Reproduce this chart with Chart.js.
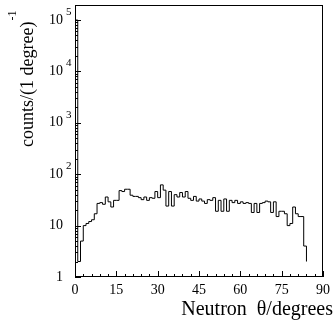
<!DOCTYPE html>
<html><head><meta charset="utf-8">
<script src="https://cdn.jsdelivr.net/npm/chart.js@4/dist/chart.umd.min.js"></script>
<style>html,body{margin:0;padding:0;background:#fff;}#wrap{width:335px;height:326px;position:relative;}</style>
</head><body><div id="wrap"><canvas id="c"></canvas></div>
<script>
// Counts per 1-degree bin of neutron theta (bin k covers k..k+1 degrees)
const counts = [
 100000, 2, 5, 10, 11, 12, 13, 17, 27, 28,
 26, 36, 29, 23, 31, 31, 48, 46, 51, 51,
 39, 37, 37, 35, 32, 36, 31, 35, 34, 46,
 35, 62, 49, 24, 46, 24, 40, 36, 44, 36,
 46, 34, 31, 37, 30, 33, 30, 27, 32, 31,
 35, 19, 31, 19, 33, 19, 31, 28, 31, 27,
 29, 27, 28, 27, 18, 27, 18, 27, 28, 30,
 29, 18, 29, 15, 19, 19, 17, 10, 11, 23,
 17, 15, 15, 4, 2, 0, 0, 0, 0, 0
];
const xTicks = [0, 15, 30, 45, 60, 75, 90];
const yDecades = [1, 10, 100, 1000, 10000, 100000];
const xTitle = 'Neutron  \u03b8/degrees';
const yTitle = 'counts/(1 degree)';
const yTitleSup = '-1';

const FONT = "'Liberation Serif', 'DejaVu Serif', serif";

const points = [{x: 0, y: 0}];
counts.forEach((v, i) => points.push({x: i, y: v}));
points.push({x: counts.length, y: 0});

const decor = {
  id: 'decor',
  afterDraw(chart) {
    const ctx = chart.ctx;
    const a = chart.chartArea;
    const xs = chart.scales.x, ys = chart.scales.y;
    ctx.save();
    ctx.strokeStyle = '#000';
    ctx.lineWidth = 1;
    // frame
    ctx.strokeRect(Math.round(a.left) + 0.5, Math.round(a.top) + 0.5,
                   Math.round(a.right - a.left) - 1, Math.round(a.bottom - a.top) - 1);
    // x ticks (inward)
    ctx.beginPath();
    for (let v = xs.min; v <= xs.max; v += 3) {
      const px = Math.round(xs.getPixelForValue(v)) + 0.5;
      const len = (v % 15 === 0) ? 6 : 3;
      ctx.moveTo(px, a.bottom);
      ctx.lineTo(px, a.bottom - len);
    }
    // y ticks (inward)
    yDecades.forEach(d => {
      for (let k = 1; k <= 9; k++) {
        const v = d * k;
        if (v > ys.max) break;
        const py = Math.round(ys.getPixelForValue(v)) + 0.5;
        const len = (k === 1) ? 6 : 3;
        ctx.moveTo(a.left, py);
        ctx.lineTo(a.left + len, py);
      }
    });
    ctx.stroke();
    // y labels
    ctx.fillStyle = '#000';
    yDecades.forEach(d => {
      const e = Math.round(Math.log10(d));
      const py = ys.getPixelForValue(d);
      ctx.font = '14px ' + FONT;
      ctx.textAlign = 'right';
      ctx.textBaseline = 'middle';
      ctx.fillText(e === 0 ? '1' : '10', a.left - 12, py);
      if (e >= 2) {
        ctx.font = '11px ' + FONT;
        ctx.textAlign = 'left';
        ctx.fillText(String(e), a.left - 9, py - 8);
      }
    });
    // x title
    ctx.font = '20px ' + FONT;
    ctx.textAlign = 'right';
    ctx.textBaseline = 'alphabetic';
    ctx.fillText(xTitle, 333, 315);
    // y title (rotated)
    ctx.save();
    ctx.translate(33, 147);
    ctx.rotate(-Math.PI / 2);
    ctx.font = '18px ' + FONT;
    ctx.textAlign = 'left';
    ctx.textBaseline = 'alphabetic';
    ctx.fillText(yTitle, 0, 0);
    const w = ctx.measureText(yTitle).width;
    ctx.font = '12px ' + FONT;
    ctx.fillText(yTitleSup, w + 1, -17);
    ctx.restore();
    ctx.restore();
  }
};

new Chart(document.getElementById('c'), {
  type: 'line',
  data: {
    datasets: [{
      data: points,
      stepped: true,
      borderColor: '#000',
      borderWidth: 1,
      pointRadius: 0,
      fill: false,
      tension: 0
    }]
  },
  options: {
    responsive: true,
    maintainAspectRatio: false,
    animation: false,
    events: [],
    layout: {padding: {top: 5, right: 9, left: 0, bottom: 0}},
    plugins: {legend: {display: false}, tooltip: {enabled: false}, title: {display: false}},
    scales: {
      x: {
        type: 'linear', min: 0, max: 90,
        afterBuildTicks(scale) { scale.ticks = xTicks.map(v => ({value: v})); },
        afterFit(scale) { scale.height = 49; },
        grid: {display: false, drawTicks: false},
        border: {display: false},
        ticks: {color: '#000', font: {family: FONT, size: 14}, padding: 5, maxRotation: 0, autoSkip: false}
      },
      y: {
        type: 'logarithmic', min: 1, max: 196000,
        afterFit(scale) { scale.width = 75; },
        grid: {display: false, drawTicks: false},
        border: {display: false},
        ticks: {display: false}
      }
    }
  },
  plugins: [decor]
});
</script>
</body></html>
